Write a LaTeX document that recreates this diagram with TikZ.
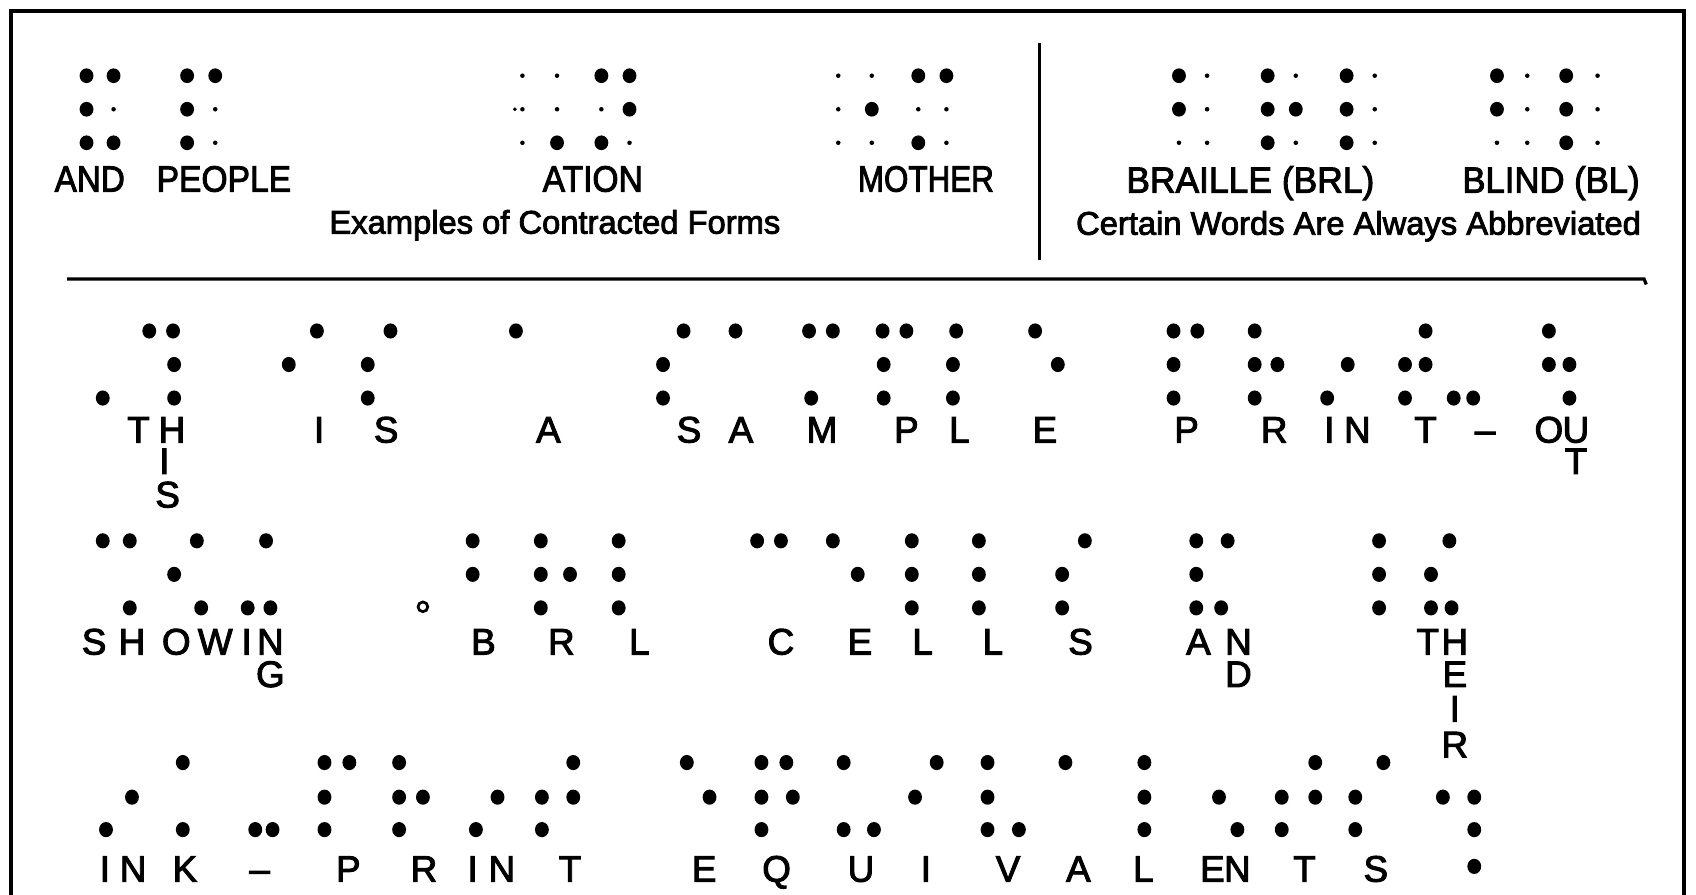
\documentclass[tikz,border=0pt]{standalone}
\usepackage{fontspec}
\setmainfont{Liberation Sans}
\newfontfamily\gfont[FakeBold=2.6]{Liberation Sans}
\newcommand\cnd[2]{\scalebox{#1}[1]{#2}}
\begin{document}
\begin{tikzpicture}[x=0.01cm,y=-0.01cm,
  lab/.style={font=\gfont\fontsize{9.6}{10}\selectfont, inner sep=0pt, text height=6.9pt, text depth=0pt},
  sub/.style={font=\gfont\fontsize{8.6}{10}\selectfont, inner sep=0pt, anchor=base},
  let/.style={font=\gfont\fontsize{9.7}{10}\selectfont, inner sep=0pt, text height=6.9pt, text depth=0pt},
  rule/.style={line width=0.03cm},
  bigdot/.style={fill=black},
  smalldot/.style={fill=black}]
\fill[white] (0,0) rectangle (1568,827);
\useasboundingbox (0,0) rectangle (1568,827);
% frame and rules
\draw[rule, line width=0.04cm] (10,827) -- (10,10) -- (1557,10) -- (1557,827);
\draw[rule] (62,258) -- (1520,258) -- (1522,263);
\draw[rule] (961,40) -- (961,240);
% ---------- top section: big dots
\foreach \x/\y in {80/70,105/70,80/101,80/132,105/132,
  173/70,199/70,173/101,173/132,
  515/132,556/70,582/70,582/101,556/132,
  806/101,849/70,875/70,849/132,
  1090/70,1090/101,
  1172/70,1172/101,1198/101,1172/132,
  1245/70,1245/101,1245/132,
  1384/70,1384/101,
  1448/70,1448/101,1448/132}
  \fill[bigdot] (\x,\y) ellipse [x radius=0.064cm, y radius=0.068cm];
% top section: small dots
\foreach \x/\y in {105/101,199/101,199/132,
  483/70,515/70,483/101,515/101,483/132,556/101,582/132,
  775/70,806/70,775/101,775/132,806/132,849/101,875/101,875/132,
  1116/70,1116/101,1090/132,1116/132,
  1198/70,1198/132,1271/70,1271/101,1271/132,
  1412/70,1412/101,1384/132,1412/132,
  1477/70,1477/101,1477/132}
  \fill[smalldot] (\x,\y) circle [radius=0.021cm];
\fill (476,101) circle [radius=0.018cm];
% top labels
\node[lab] (tAND) at (83,165) {\cnd{0.91}{AND}};
\node[lab] (tPEOPLE) at (207,165) {\cnd{0.92}{PEOPLE}};
\node[lab] (tATION) at (548,165) {\cnd{0.92}{ATION}};
\node[lab] (tMOTHER) at (856,165) {\cnd{0.86}{MOTHER}};
\node[lab] (tBRL) at (1156,166) {\cnd{0.97}{BRAILLE (BRL)}};
\node[lab] (tBL) at (1434,166) {\cnd{0.95}{BLIND (BL)}};
\node[sub] (sub1) at (513,216) {Examples of Contracted Forms};
\node[sub] (sub2) at (1256,217) {Certain Words Are Always Abbreviated};
% ---------- braille lines: dots
\foreach \x/\y in {
  138/306,160/306,161/337,95/368,161/368,
  293/306,267/337,361/306,340/337,340/368,
  477/306,
  632/306,680/306,613/337,613/368,
  748/306,770/306,750/368,
  816/306,838/306,817/337,817/368,
  884/306,881/337,881/368,
  957/306,978/337,
  1085/306,1107/306,1085/337,1085/368,
  1160/306,1160/337,1181/337,1160/368,
  1246/337,1227/368,
  1318/306,1299/337,1318/337,1299/368,
  1344/368,1362/368,
  1432/306,1432/337,1451/337,1451/368,
  95/500,120/500,120/562,
  182/500,161/531,186/562,
  246/500,229/562,250/562,
  437/500,437/531,
  500/500,500/531,527/531,500/562,
  572/500,572/531,572/562,
  700/500,722/500,
  770/500,793/531,
  843/500,843/531,843/562,
  905/500,905/531,905/562,
  1003/500,982/531,982/562,
  1106/500,1135/500,1106/531,1106/562,1129/562,
  1275/500,1275/531,1275/562,
  1340/500,1323/531,1323/562,1342/562,
  169/705,122/737,98/767,169/767,236/767,252/767,
  300/705,323/705,300/737,300/767,
  369/705,369/737,391/737,369/767,
  460/737,440/767,
  530/705,501/737,530/737,501/767,
  635/705,656/737,
  704/705,727/705,704/737,733/737,704/767,
  780/705,780/767,808/767,
  866/705,846/737,
  913/705,913/737,913/767,942/767,
  985/705,
  1058/705,1058/737,1058/767,
  1127/737,1144/767,
  1216/705,1185/737,1216/737,1185/767,
  1279/705,1253/737,1253/767,
  1334/737,1363/737,1363/767,1363/801}
  \fill[bigdot] (\x,\y) ellipse [x radius=0.064cm, y radius=0.07cm];
% hollow dot
\draw[line width=0.025cm] (391,561) circle [radius=0.045cm];
% ---------- letters
\foreach \x/\y/\t [count=\i] in {
  128/397/T,159/397/H,152/426/I,155/457/S,
  295/397/I,357/397/S,507/397/A,
  637/397/S,685/397/A,760/397/M,838/397/P,887/397/L,966/397/E,
  1097/397/P,1178/397/R,1229/397/I,1255/397/N,1318/397/T,1373/397/\textendash,
  1432/397/O,1457/397/U,1457/426/T}
  \node[let] (ra\i) at (\x,\y) {\t};
\foreach \x/\y/\t [count=\i] in {
  87/593/S,122/593/H,163/593/O,199/593/W,228/593/I,250/593/N,250/623/G,
  447/593/B,519/593/R,591/593/L,
  722/593/C,795/593/E,853/593/L,918/593/L,999/593/S,
  1108/593/A,1145/593/N,1145/623/D,
  1320/593/T,1345/593/H,1345/623/E,1345/655/I,1345/688/R}
  \node[let] (rb\i) at (\x,\y) {\t};
\foreach \x/\y/\t [count=\i] in {
  97/803/I,123/803/N,171/803/K,240/803/\textendash,
  322/803/P,392/803/R,437/803/I,464/803/N,527/803/T,
  651/803/E,718/803/Q,796/803/U,856/803/I,932/803/V,997/803/A,
  1057/803/L,1121/803/E,1144/803/N,1206/803/T,1272/803/S}
  \node[let] (rc\i) at (\x,\y) {\t};
\end{tikzpicture}
\end{document}
